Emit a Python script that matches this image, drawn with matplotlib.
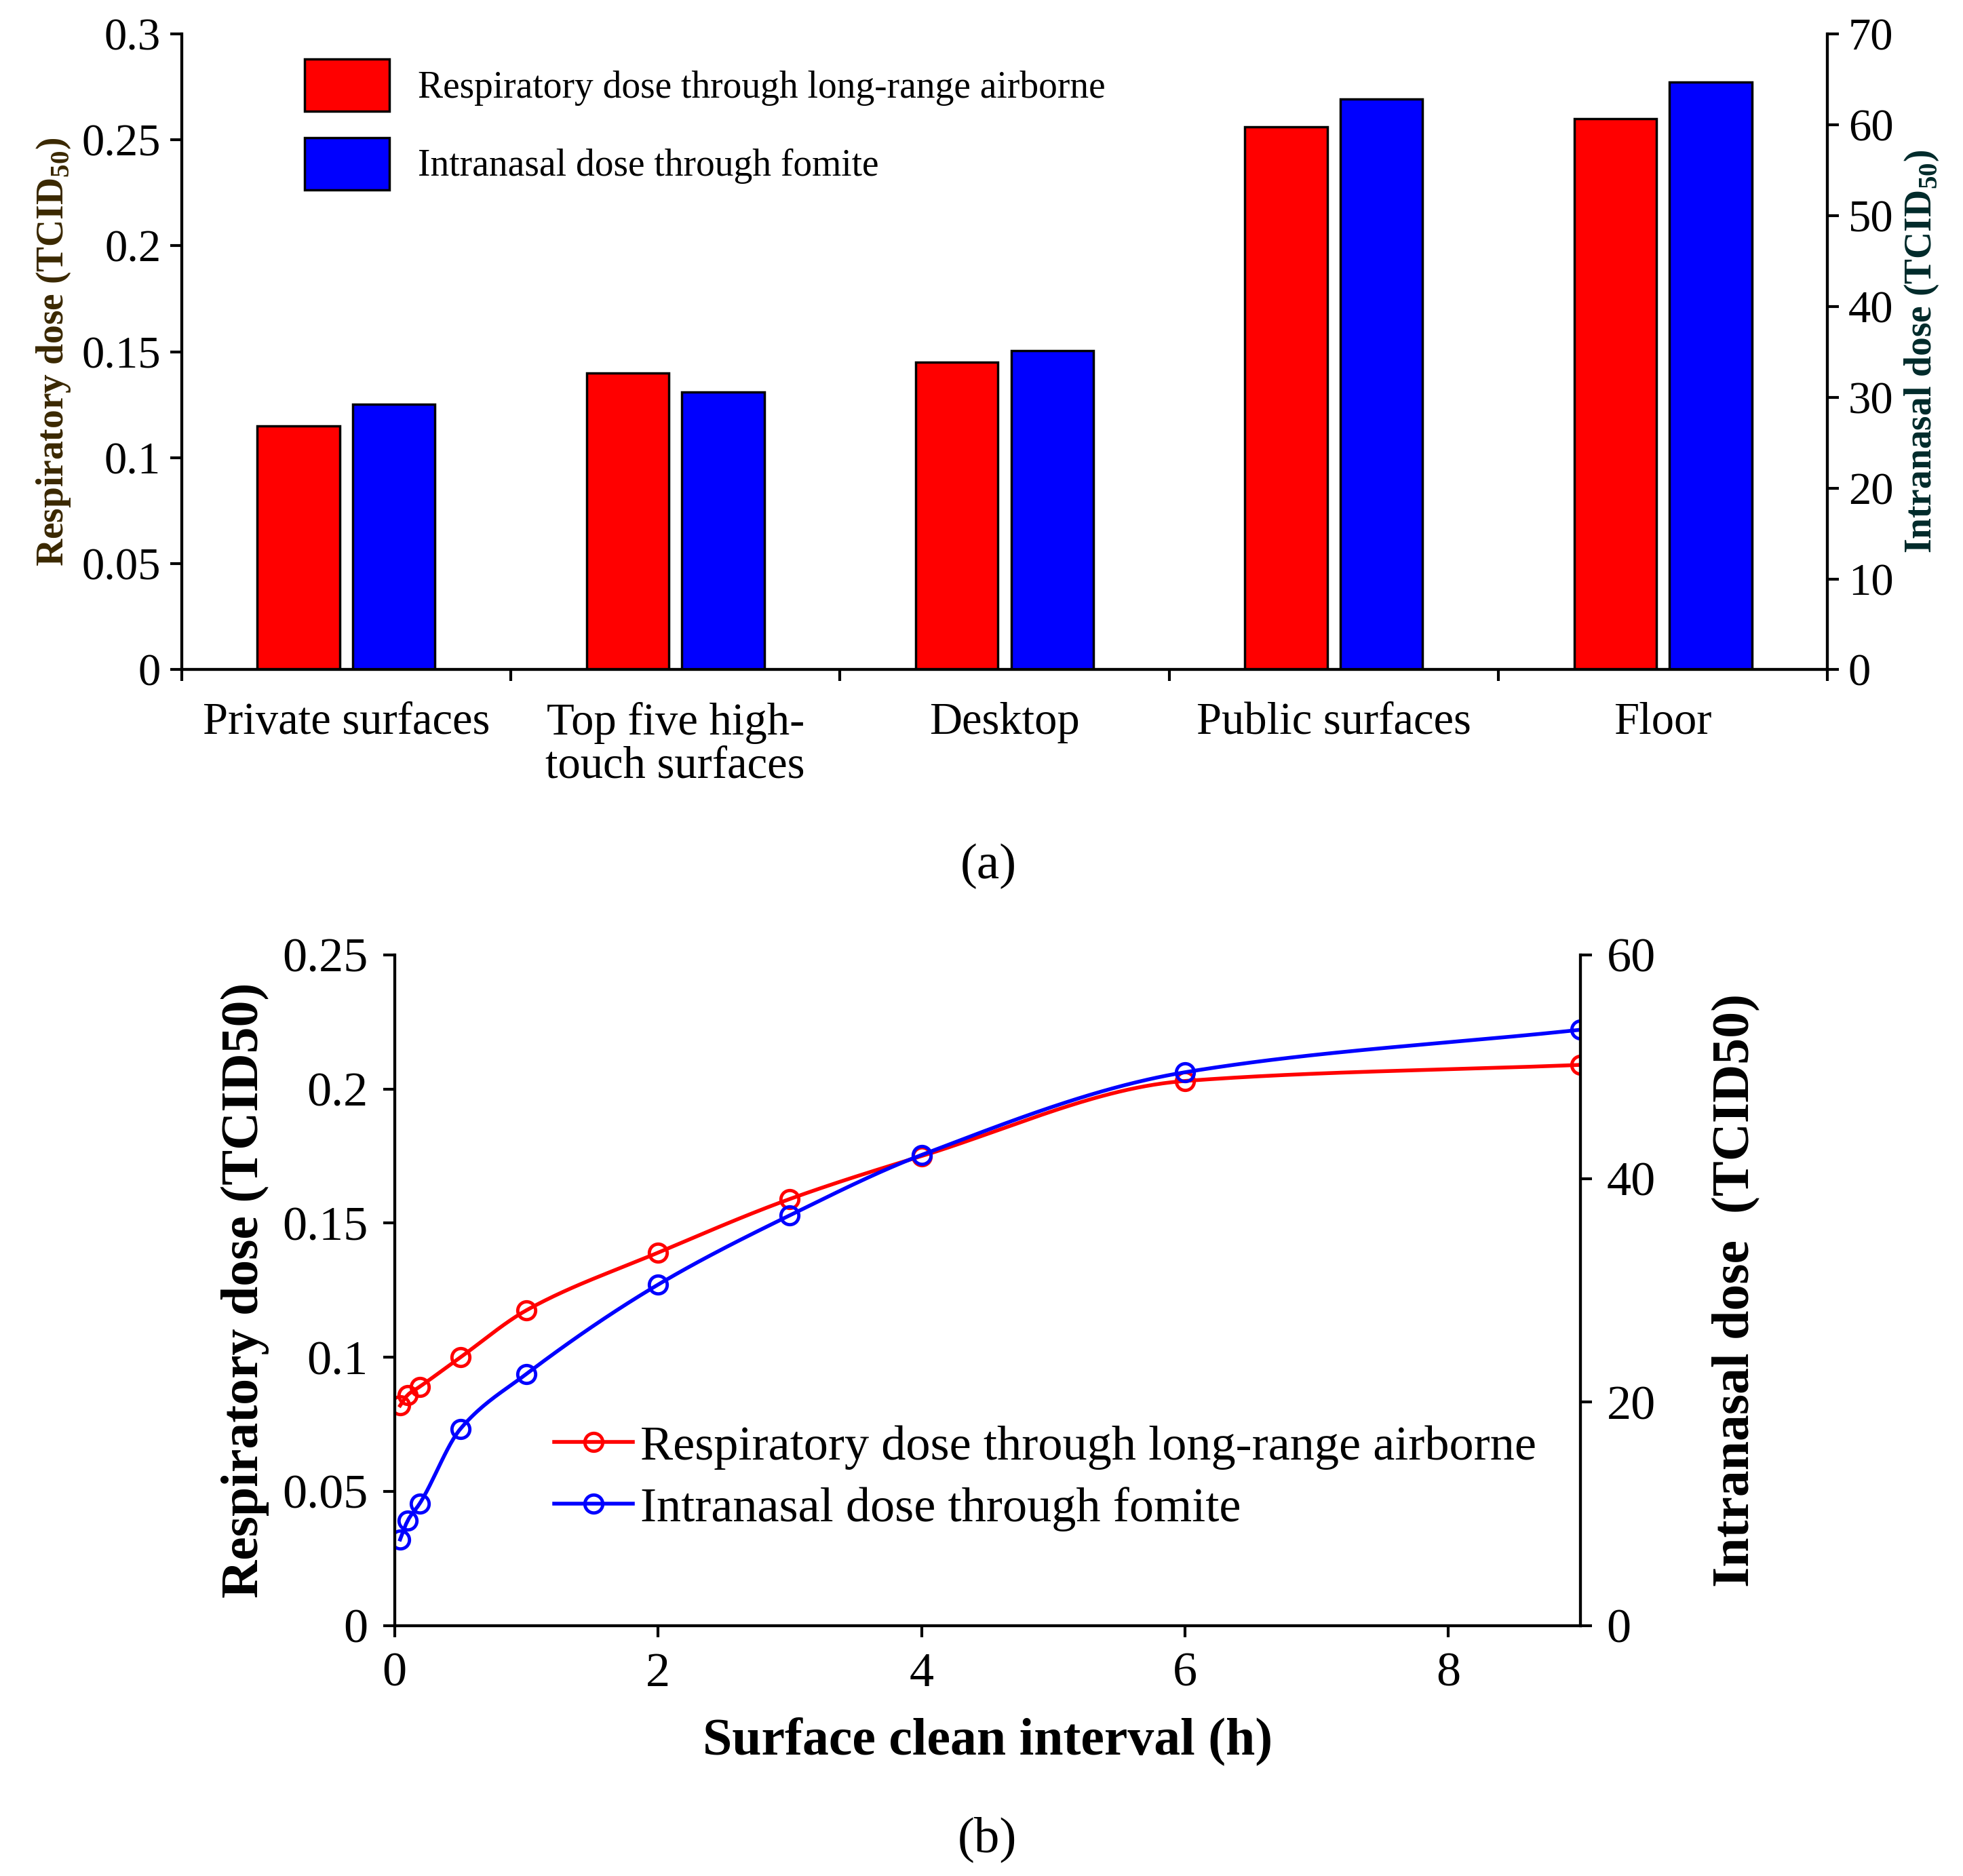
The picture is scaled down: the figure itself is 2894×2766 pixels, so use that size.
import numpy as np
import matplotlib
matplotlib.use("Agg")
import matplotlib.pyplot as plt
from matplotlib.patches import Patch
from matplotlib.lines import Line2D

plt.rcParams['font.family'] = 'Liberation Serif'
plt.rcParams['mathtext.fontset'] = 'custom'
plt.rcParams['mathtext.rm'] = 'Liberation Serif'
plt.rcParams['mathtext.bf'] = 'Liberation Serif:bold'

categories = ["Private surfaces", "Top five high-\ntouch surfaces", "Desktop", "Public surfaces", "Floor"]
resp_dose = [0.115, 0.14, 0.145, 0.256, 0.26]
nasal_dose = [29.2, 30.6, 35.1, 62.8, 64.7]

interval = [0.042, 0.1, 0.19, 0.5, 1, 2, 3, 4, 6, 9]
resp_line = [0.082, 0.086, 0.089, 0.100, 0.1175, 0.139, 0.159, 0.175, 0.203, 0.209]
nasal_line = [7.7, 9.4, 10.9, 17.6, 22.5, 30.5, 36.7, 42.1, 49.5, 53.3]

def pchip(x, y, n=400):
    x = np.asarray(x, float); y = np.asarray(y, float)
    h = np.diff(x); d = np.diff(y) / h
    m = np.zeros_like(y)
    for k in range(1, len(x) - 1):
        if d[k-1] * d[k] > 0:
            w1 = 2*h[k] + h[k-1]; w2 = h[k] + 2*h[k-1]
            m[k] = (w1 + w2) / (w1/d[k-1] + w2/d[k])
    m[0] = d[0]; m[-1] = d[-1]
    xs = np.linspace(x[0], x[-1], n)
    idx = np.clip(np.searchsorted(x, xs) - 1, 0, len(h) - 1)
    t = (xs - x[idx]) / h[idx]
    h00 = 2*t**3 - 3*t**2 + 1; h10 = t**3 - 2*t**2 + t
    h01 = -2*t**3 + 3*t**2; h11 = t**3 - t**2
    ys = h00*y[idx] + h10*h[idx]*m[idx] + h01*y[idx+1] + h11*h[idx]*m[idx+1]
    return xs, ys

fig = plt.figure(figsize=(28.94, 27.66), dpi=100)
lw_sp = 3

# ---------- panel a
ax = fig.add_axes([0.0925, 0.643, 0.8385, 0.339])
ax2 = ax.twinx()
xpos = np.arange(len(categories))
ax.bar(xpos - 0.145, resp_dose, 0.25, color='#ff0000', edgecolor='black', linewidth=2.5)
ax2.bar(xpos + 0.145, nasal_dose, 0.25, color='#0000ff', edgecolor='black', linewidth=2.5)
ax.set_xlim(-0.5, 4.5)
ax.set_ylim(0, 0.3)
ax2.set_ylim(0, 70)
ax.set_yticks(np.arange(0, 0.31, 0.05))
ax.set_yticklabels(['0', '0.05', '0.1', '0.15', '0.2', '0.25', '0.3'])
ax2.set_yticks(range(0, 71, 10))
ax.set_xticks(np.arange(-0.5, 4.6, 1))
ax.set_xticklabels([])
ax.set_xticks(xpos, minor=True)
ax.set_xticklabels(categories, minor=True, fontsize=48, linespacing=1.05)
ax.tick_params(axis='x', which='minor', length=0, pad=34)
ax.tick_params(axis='x', which='major', length=12, width=lw_sp, direction='out')
for a in (ax, ax2):
    a.tick_params(axis='y', labelsize=48, length=12, width=lw_sp, direction='out', pad=10)
    a.spines['top'].set_visible(False)
    for s in ('left', 'right', 'bottom'):
        a.spines[s].set_linewidth(lw_sp)
ax.set_ylabel(r'Respiratory dose (TCID$_{\mathbf{50}}$)', fontsize=40, fontweight='bold', color='#3a2800', labelpad=10)
ax2.set_ylabel(r'Intranasal dose (TCID$_{\mathbf{50}}$)', fontsize=40, fontweight='bold', color='#002a2a', labelpad=10)
handles = [Patch(facecolor='#ff0000', edgecolor='black', linewidth=2.5),
           Patch(facecolor='#0000ff', edgecolor='black', linewidth=2.5)]
ax.legend(handles, ['Respiratory dose through long-range airborne', 'Intranasal dose through fomite'],
          loc='upper left', bbox_to_anchor=(0.138, 0.9865), bbox_transform=fig.transFigure,
          frameon=False, fontsize=40, handlelength=2.25, handleheight=1.75, labelspacing=0.7, handletextpad=0.75)
fig.text(0.5035, 0.538, '(a)', ha='center', va='center', fontsize=54)

# ---------- panel b
bx = fig.add_axes([0.201, 0.1335, 0.604, 0.3575])
bx2 = bx.twinx()
xs, ys = pchip(interval, resp_line)
bx.plot(xs, ys, color='#ff0000', linewidth=4)
bx.plot(interval, resp_line, 'o', mfc='none', mec='#ff0000', mew=3.5, ms=19)
xs, ys = pchip(interval, nasal_line)
bx2.plot(xs, ys, color='#0000ff', linewidth=4)
bx2.plot(interval, nasal_line, 'o', mfc='none', mec='#0000ff', mew=3.5, ms=19)
bx.set_xlim(0, 9)
bx.set_ylim(0, 0.25)
bx2.set_ylim(0, 60)
bx.set_xticks([0, 2, 4, 6, 8])
bx.set_yticks([0, 0.05, 0.1, 0.15, 0.2, 0.25])
bx.set_yticklabels(['0', '0.05', '0.1', '0.15', '0.2', '0.25'])
bx2.set_yticks([0, 20, 40, 60])
for a in (bx, bx2):
    a.tick_params(labelsize=52, length=12, width=lw_sp, direction='out', pad=16)
    a.spines['top'].set_visible(False)
    for s in ('left', 'right', 'bottom'):
        a.spines[s].set_linewidth(lw_sp)
bx.set_xlabel('Surface clean interval (h)', fontsize=56, fontweight='bold', labelpad=22)
bx.set_ylabel('Respiratory dose (TCID50)', fontsize=56, fontweight='bold', labelpad=14)
bx2.set_ylabel('Intranasal dose  (TCID50)', fontsize=56, fontweight='bold', labelpad=60)
lh = [Line2D([], [], color='#ff0000', lw=4, marker='o', mfc='none', mec='#ff0000', mew=3.5, ms=19),
      Line2D([], [], color='#0000ff', lw=4, marker='o', mfc='none', mec='#0000ff', mew=3.5, ms=19)]
bx.legend(lh, ['Respiratory dose through long-range airborne', 'Intranasal dose through fomite'],
          loc='lower right', bbox_to_anchor=(1.0, 0.075), frameon=False, fontsize=52,
          handlelength=1.6, handletextpad=0.15, labelspacing=0.35)
fig.text(0.503, 0.0195, '(b)', ha='center', va='center', fontsize=54)

fig.savefig('out.png', dpi=100)
